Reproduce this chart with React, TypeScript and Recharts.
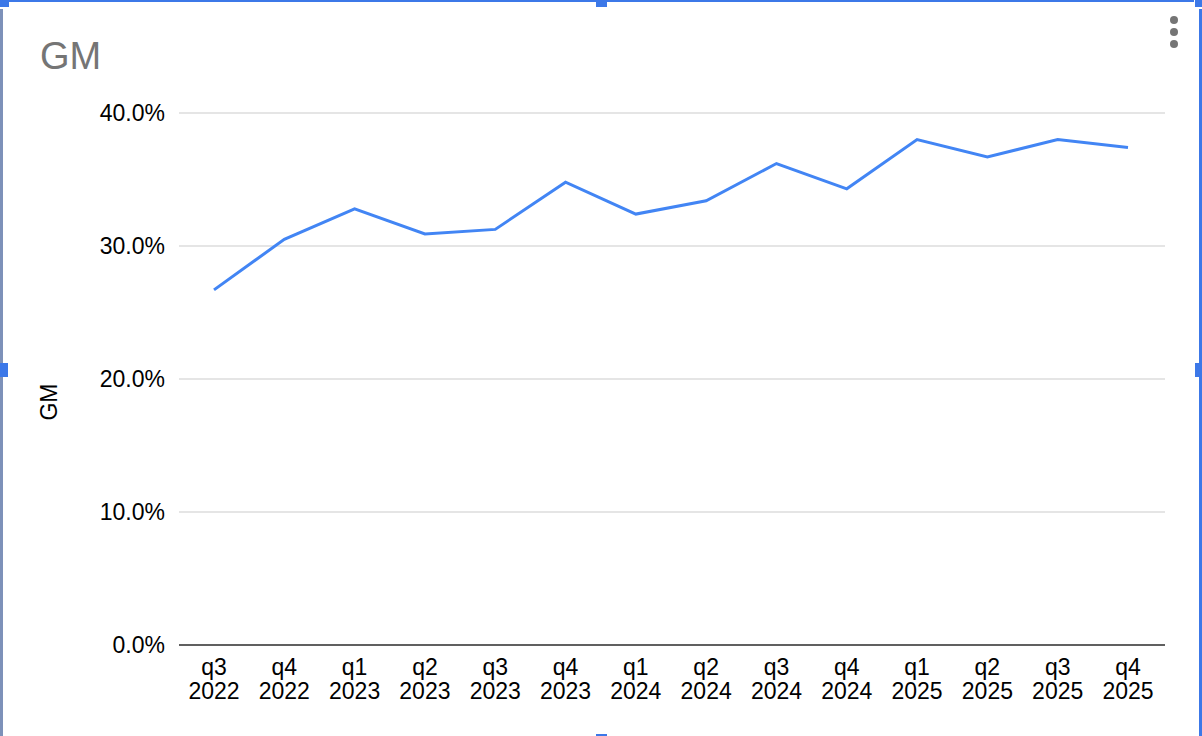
import { LineChart, Line, XAxis, YAxis, CartesianGrid } from 'recharts'

const quarters = ['q3', 'q4', 'q1', 'q2', 'q3', 'q4', 'q1', 'q2', 'q3', 'q4', 'q1', 'q2', 'q3', 'q4']
const years = ['2022', '2022', '2023', '2023', '2023', '2023', '2024', '2024', '2024', '2024', '2025', '2025', '2025', '2025']
const gm = [26.7, 30.5, 32.8, 30.9, 31.25, 34.8, 32.4, 33.4, 36.2, 34.3, 38.0, 36.7, 38.0, 37.4]
const yTicks = [0, 10, 20, 30, 40]

const data = quarters.map((q, i) => ({ name: q + ' ' + years[i], gm: gm[i] }))

const FONT = '"Liberation Sans", Arial, sans-serif'
const BLUE = '#3c78e8'

const XTick = ({ x, y, payload }: any) => {
    const [q, yr] = String(payload.value).split(' ')
    return (
        <text x={x} y={y} textAnchor='middle' fill='#000' fontSize={23} fontFamily={FONT}>
            <tspan x={x} dy={30}>{q}</tspan>
            <tspan x={x} dy={24}>{yr}</tspan>
        </text>
    )
}

const YLabel = ({ viewBox }: any) => {
    const cx = viewBox.x + 49
    const cy = viewBox.y + viewBox.height / 2 + 23
    return (
        <text
            x={cx}
            y={cy}
            transform={`rotate(-90, ${cx}, ${cy})`}
            textAnchor='middle'
            dominantBaseline='central'
            fill='#000'
            fontSize={23}
            fontFamily={FONT}
        >
            GM
        </text>
    )
}

const box = (s: React.CSSProperties): React.CSSProperties => ({ position: 'absolute', ...s })

export default function App() {
    return (
        <div style={{ position: 'absolute', left: 0, top: 0, width: 1202, height: 736, background: '#fff', fontFamily: FONT, overflow: 'hidden' }}>
            <LineChart width={1202} height={736} data={data} margin={{ top: 113, right: 37, bottom: 0, left: 0 }}>
                <CartesianGrid vertical={false} stroke='#ccc' strokeWidth={1.2} />
                <XAxis
                    dataKey='name'
                    height={91}
                    padding={{ left: 35, right: 37 }}
                    tickLine={false}
                    tickSize={0}
                    tickMargin={0}
                    axisLine={{ stroke: '#333', strokeWidth: 1.3 }}
                    tick={<XTick />}
                    interval={0}
                />
                <YAxis
                    width={179}
                    domain={[0, 40]}
                    ticks={yTicks}
                    tickFormatter={(v: number) => v.toFixed(1) + '%'}
                    tickLine={false}
                    axisLine={false}
                    tickSize={0}
                    tickMargin={14}
                    tick={{ fill: '#000', fontSize: 23, fontFamily: FONT }}
                    label={<YLabel />}
                />
                <Line type='linear' dataKey='gm' stroke='#4285f4' strokeWidth={3} dot={false} activeDot={false} isAnimationActive={false} />
            </LineChart>

            <div style={box({ left: 40, top: 37, fontSize: 38, lineHeight: '38px', color: '#757575' })}>GM</div>

            {/* menu dots */}
            {[20, 32, 44].map((t) => (
                <div key={t} style={box({ left: 1170, top: t - 4, width: 8, height: 8, borderRadius: 4, background: '#757575' })} />
            ))}

            {/* selection frame */}
            <div style={box({ left: 9, top: 0, width: 1185, height: 2, background: BLUE })} />
            <div style={box({ left: 0, top: 9, width: 3, height: 727, background: '#7d91b9' })} />
            <div style={box({ left: 1199, top: 9, width: 3, height: 727, background: BLUE })} />
            <div style={box({ left: 0, top: 0, width: 9, height: 7, background: BLUE })} />
            <div style={box({ left: 1195, top: 0, width: 7, height: 7, background: BLUE })} />
            <div style={box({ left: 596, top: 0, width: 11, height: 7, background: BLUE })} />
            <div style={box({ left: 0, top: 363, width: 8, height: 14, background: BLUE })} />
            <div style={box({ left: 1195, top: 363, width: 7, height: 14, background: BLUE })} />
            <div style={box({ left: 596, top: 734, width: 11, height: 2, background: BLUE })} />
        </div>
    )
}
